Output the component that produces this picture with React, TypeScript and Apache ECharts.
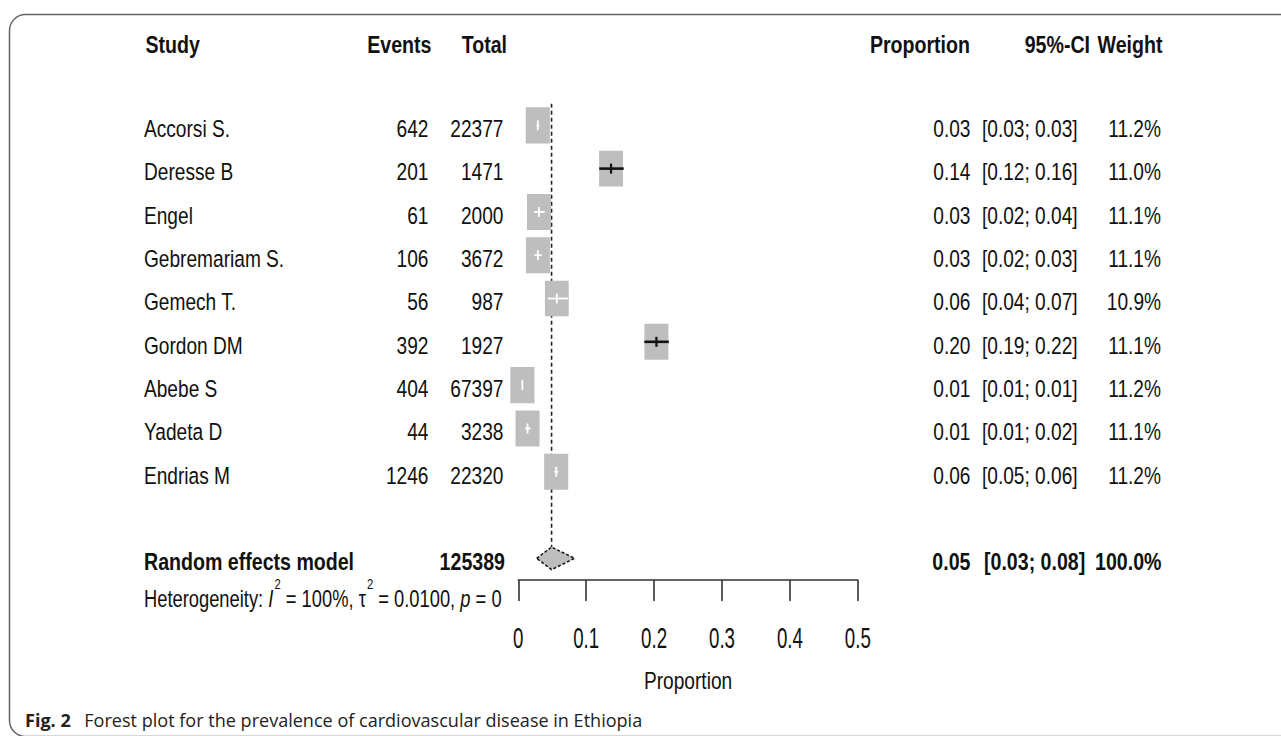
import React, { useEffect, useRef } from "react";
import * as echarts from "echarts";

// ---------- data ----------
const studies = ["Accorsi S.", "Deresse B", "Engel", "Gebremariam S.", "Gemech T.", "Gordon DM", "Abebe S", "Yadeta D", "Endrias M"];
const events = [642, 201, 61, 106, 56, 392, 404, 44, 1246];
const totals = [22377, 1471, 2000, 3672, 987, 1927, 67397, 3238, 22320];
const proportions = [0.0287, 0.1366, 0.0305, 0.0289, 0.0567, 0.2034, 0.006, 0.0136, 0.0558];
const ciLower = [0.0266, 0.1193, 0.0234, 0.0237, 0.0432, 0.1857, 0.0054, 0.0099, 0.0528];
const ciUpper = [0.031, 0.1552, 0.039, 0.0348, 0.073, 0.2217, 0.0066, 0.0183, 0.0589];
const weights = [11.2, 11.0, 11.1, 11.1, 10.9, 11.1, 11.2, 11.1, 11.2];

const pooledLabel = "Random effects model";
const pooledEstimate = 0.049;
const pooledCI = [0.027, 0.083];
const pooledWeight = 100.0;

const axisTicks = [0, 0.1, 0.2, 0.3, 0.4, 0.5];
const axisTitle = "Proportion";
const headers = ["Study", "Events", "Total", "Proportion", "95%-CI", "Weight"];
const heterogeneityParts = [
  { t: "Heterogeneity: ", kind: "n" },
  { t: "I", kind: "i" },
  { t: "2", kind: "sup" },
  { t: " = 100%, ", kind: "n" },
  { t: "τ", kind: "n" },
  { t: "2", kind: "sup" },
  { t: " = 0.0100, ", kind: "n" },
  { t: "p", kind: "i" },
  { t: " = 0", kind: "n" },
];
const captionBold = "Fig. 2";
const captionText = "Forest plot for the prevalence of cardiovascular disease in Ethiopia";

// ---------- layout / style ----------
const W = 1281;
const H = 736;
const FAM = '"Liberation Sans", Arial, sans-serif';
const CAP_FAM = '"Open Sans", "Noto Sans", sans-serif';
const FS = 24.5;
const SX = 0.78;
const SXB = 0.8;
const INK = "#111";
const BOX = "#bebebe";

let _ctx: CanvasRenderingContext2D | null = null;
function measure(text: string, font: string) {
  if (!_ctx) _ctx = document.createElement("canvas").getContext("2d");
  _ctx!.font = font;
  return _ctx!.measureText(text).width;
}

function txt(text: string, x: number, y: number, o: any = {}) {
  const bold = !!o.bold;
  return {
    type: "text",
    x,
    y,
    scaleX: o.sx ?? (bold ? SXB : SX),
    silent: true,
    style: {
      text,
      x: 0,
      y: 0,
      fontSize: o.size ?? FS,
      fontFamily: o.family ?? FAM,
      fontWeight: bold ? "bold" : "normal",
      fontStyle: o.italic ? "italic" : "normal",
      fill: o.fill ?? INK,
      align: o.align ?? "left",
      verticalAlign: "middle",
    },
  };
}

export default function App() {
  const ref = useRef<HTMLDivElement>(null);

  useEffect(() => {
    const chart = echarts.init(ref.current!, null, { renderer: "svg" });

    const studyData = studies.map((_, i) => [proportions[i], ciLower[i], ciUpper[i], weights[i], i + 1]);
    const pooledRow = studies.length + 2;

    const option: any = {
      animation: false,
      grid: { left: 518.3, top: 82, width: 339.5, height: 498 },
      xAxis: {
        type: "value",
        min: 0,
        max: 0.5,
        interval: 0.1,
        position: "bottom",
        axisLine: { show: true, onZero: false, lineStyle: { color: "#333", width: 1.6 } },
        axisTick: { show: true, length: 21, lineStyle: { color: "#333", width: 1.6 } },
        axisLabel: { show: false },
        splitLine: { show: false },
      },
      yAxis: { type: "value", min: 0, max: 11.5, inverse: true, show: false },
      series: [
        {
          type: "line",
          data: [
            [pooledEstimate, 0.5],
            [pooledEstimate, pooledRow - 0.26],
          ],
          symbol: "none",
          lineStyle: { color: "#222", width: 1.6, type: [4, 3] },
          z: 1,
          silent: true,
        },
        {
          type: "custom",
          z: 3,
          silent: true,
          data: studyData,
          renderItem: (_p: any, api: any) => {
            const p = api.value(0);
            const lo = api.value(1);
            const hi = api.value(2);
            const w = api.value(3);
            const row = api.value(4);
            const c = api.coord([p, row]);
            const l = api.coord([lo, row]);
            const h = api.coord([hi, row]);
            const s = Math.sqrt(w / 11.1);
            const bw = 24 * s;
            const bh = 36 * s;
            const inside = l[0] >= c[0] - bw / 2 && h[0] <= c[0] + bw / 2;
            const col = inside ? "#ffffff" : "#111111";
            return {
              type: "group",
              children: [
                { type: "rect", shape: { x: c[0] - bw / 2, y: c[1] - bh / 2, width: bw, height: bh }, style: { fill: BOX } },
                { type: "line", shape: { x1: l[0], y1: c[1], x2: h[0], y2: c[1] }, style: { stroke: col, lineWidth: inside ? 1.8 : 2.6 } },
                { type: "line", shape: { x1: c[0], y1: c[1] - 5, x2: c[0], y2: c[1] + 5 }, style: { stroke: col, lineWidth: inside ? 1.8 : 2.2 } },
              ],
            };
          },
        },
        {
          type: "custom",
          z: 3,
          silent: true,
          data: [[pooledEstimate, pooledCI[0], pooledCI[1], pooledRow]],
          renderItem: (_p: any, api: any) => {
            const row = api.value(3);
            const c = api.coord([api.value(0), row]);
            const l = api.coord([api.value(1), row]);
            const h = api.coord([api.value(2), row]);
            const hh = 11.3;
            return {
              type: "polygon",
              shape: { points: [[l[0], c[1]], [c[0], c[1] - hh], [h[0], c[1]], [c[0], c[1] + hh]] },
              style: { fill: BOX, stroke: "#111", lineWidth: 1.5, lineDash: [3, 2] },
            };
          },
        },
      ],
    };
    chart.setOption(option);

    const px = (x: number, row: number) => chart.convertToPixel({ gridIndex: 0 }, [x, row]) as number[];
    const g: any[] = [];

    // frame
    g.push({
      type: "rect",
      silent: true,
      shape: { x: 9.5, y: 14.5, width: 1400, height: 722, r: 16 },
      style: { fill: "none", stroke: "#666", lineWidth: 1.5 },
    });

    // headers
    const hy = 45;
    g.push(txt(headers[0], 145.5, hy, { bold: true }));
    g.push(txt(headers[1], 431.5, hy, { bold: true, align: "right" }));
    g.push(txt(headers[2], 507, hy, { bold: true, align: "right" }));
    g.push(txt(headers[3], 970, hy, { bold: true, align: "right" }));
    g.push(txt(headers[4], 1090, hy, { bold: true, align: "right" }));
    g.push(txt(headers[5], 1162.5, hy, { bold: true, align: "right" }));

    // study rows
    studies.forEach((s, i) => {
      const y = px(0, i + 1)[1] + 3.5;
      g.push(txt(s, 144, y));
      g.push(txt(String(events[i]), 428.5, y, { align: "right" }));
      g.push(txt(String(totals[i]), 503.5, y, { align: "right" }));
      g.push(txt(proportions[i].toFixed(2), 970.5, y, { align: "right" }));
      g.push(txt(`[${ciLower[i].toFixed(2)}; ${ciUpper[i].toFixed(2)}]`, 982, y));
      g.push(txt(`${weights[i].toFixed(1)}%`, 1161, y, { align: "right" }));
    });

    // pooled row
    const py = px(0, pooledRow)[1] + 3.4;
    const totalSum = totals.reduce((a, b) => a + b, 0);
    g.push(txt(pooledLabel, 144, py, { bold: true }));
    g.push(txt(String(totalSum), 505, py, { bold: true, align: "right" }));
    g.push(txt(pooledEstimate.toFixed(2), 970.5, py, { bold: true, align: "right" }));
    g.push(txt(`[${pooledCI[0].toFixed(2)}; ${pooledCI[1].toFixed(2)}]`, 984, py, { bold: true }));
    g.push(txt(`${pooledWeight.toFixed(1)}%`, 1161.5, py, { bold: true, align: "right" }));

    // heterogeneity
    const hetY = py + 36.5;
    let cx = 144;
    const hs = 23.5;
    heterogeneityParts.forEach((part) => {
      if (part.kind === "sup") {
        const size = 14.5;
        g.push(txt(part.t, cx + 1, hetY - 14, { size }));
        cx += measure(part.t, `normal normal ${size}px ${FAM}`) * SX + 1;
      } else {
        const italic = part.kind === "i";
        g.push(txt(part.t, cx, hetY, { size: hs, italic }));
        cx += measure(part.t, `${italic ? "italic" : "normal"} normal ${hs}px ${FAM}`) * SX;
      }
    });

    // axis tick labels and title
    const axisY = px(0, 11.5)[1];
    axisTicks.forEach((t) => {
      g.push(txt(String(t), px(t, 0)[0], axisY + 58, { align: "center", size: 29, sx: 0.645 }));
    });
    const midX = (px(0, 0)[0] + px(0.5, 0)[0]) / 2;
    g.push(txt(axisTitle, midX, axisY + 100.5, { align: "center" }));

    // caption
    const capFont = (w: string, s: number) => `normal ${w} ${s}px ${CAP_FAM}`;
    const ref15 = measure(captionText, capFont("normal", 15));
    const capSize = (15 * 558) / ref15;
    const boldW = measure(captionBold, capFont("bold", capSize));
    const capY = 720;
    g.push(txt(captionBold, 25, capY, { bold: true, sx: 1, family: CAP_FAM, size: capSize, fill: "#222" }));
    g.push(txt(captionText, 25 + boldW + capSize * 0.75, capY, { sx: 1, family: CAP_FAM, size: capSize, fill: "#222" }));

    chart.setOption({ graphic: g });

    return () => chart.dispose();
  }, []);

  return <div ref={ref} style={{ position: "absolute", left: 0, top: 0, width: W, height: H, background: "#fff" }} />;
}
